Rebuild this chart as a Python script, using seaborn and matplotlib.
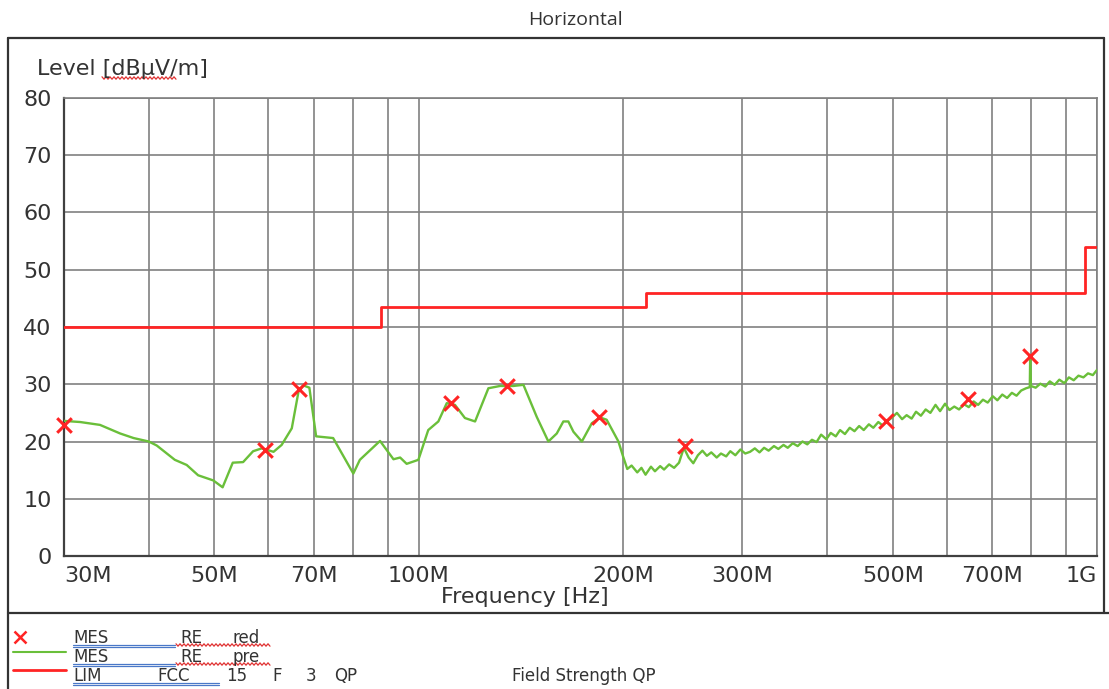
import matplotlib.pyplot as plt
import numpy as np
import pandas as pd
import seaborn as sns
from matplotlib.lines import Line2D
from matplotlib.ticker import NullLocator

# MES RE_pre : pre-scan trace, frequency in MHz, level in dBuV/m
pre_freq = [30, 31.7, 33.9, 36.3, 38.0, 40.0, 41.1, 43.7, 45.5, 47.3, 49.8, 51.4,
            53.2, 55.1, 57.0, 58.7, 61.1, 62.8, 65.0, 66.5, 67.6, 69.0, 70.6, 74.8,
            80.1, 81.9, 87.7, 91.8, 93.9, 96.0, 99.9, 103.3, 106.9, 110.0, 113.1,
            117.0, 121.1, 126.7, 131.8, 137.9, 142.7, 149.3, 155.3, 159.8, 163.4,
            166.2, 169.1, 174.0, 180.0, 185.1, 189.3, 197.0,
            200, 203, 206, 210, 213, 216, 220, 223, 227, 230, 234, 238, 242, 246,
            250, 254, 258, 262, 266, 270, 275, 279, 284, 288, 293, 298, 303, 308,
            313, 318, 323, 328, 334, 339, 345, 350, 356, 362, 368, 374, 380, 386,
            392, 399, 405, 412, 418, 425, 432, 439, 446, 453, 461, 468, 476, 483,
            491, 499, 507, 516, 524, 533, 541, 550, 559, 568, 578, 587, 597, 606,
            616, 626, 637, 647, 658, 668, 679, 690, 702, 713, 725, 737, 749, 761,
            773, 786, 796, 797, 799, 812, 825, 839, 852, 866, 880, 895, 909, 924,
            939, 955, 970, 986, 1000]
pre_level = [23.6, 23.4, 22.9, 21.4, 20.6, 20.0, 19.3, 16.8, 15.9, 14.1, 13.2, 12.0,
             16.3, 16.4, 18.3, 18.8, 18.2, 19.4, 22.3, 28.7, 29.8, 29.4, 20.9, 20.6,
             14.4, 16.8, 20.1, 16.9, 17.2, 16.1, 16.8, 22.0, 23.5, 26.7, 26.4,
             24.1, 23.5, 29.3, 29.7, 29.7, 29.9, 24.3, 20.0, 21.4, 23.5,
             23.5, 21.7, 20.0, 23.2, 24.2, 23.8, 20.0,
             17.5, 15.2, 15.8, 14.6, 15.4, 14.2, 15.6, 14.8, 15.7, 15.1, 16.0, 15.4, 16.3, 18.9,
             17.2, 16.2, 17.6, 18.4, 17.5, 18.1, 17.2, 17.9, 17.4, 18.3, 17.6, 18.6, 17.9, 18.2,
             18.8, 18.1, 18.9, 18.4, 19.2, 18.7, 19.4, 18.9, 19.7, 19.2, 20.0, 19.5, 20.3, 19.9,
             21.2, 20.4, 21.5, 20.9, 22.0, 21.3, 22.4, 21.8, 22.7, 22.0, 23.0, 22.4, 23.4, 22.8,
             23.6, 24.2, 25.0, 23.9, 24.6, 24.0, 25.2, 24.5, 25.6, 25.0, 26.4, 25.3, 26.6, 25.5,
             26.1, 25.6, 26.5, 26.0, 27.0, 26.4, 27.3, 26.8, 27.9, 27.2, 28.2, 27.6, 28.5, 28.0,
             28.9, 29.3, 29.5, 34.3, 29.7, 29.4, 30.1, 29.6, 30.5, 29.9, 30.8, 30.2, 31.2, 30.7,
             31.5, 31.2, 31.9, 31.6, 32.5]

# MES RE_red : final QP measurements
red_freq = [30, 59.3, 66.6, 111.6, 134.9, 184.4, 247, 488.7, 645, 796.6]
red_level = [22.9, 18.5, 29.2, 26.7, 29.7, 24.3, 19.2, 23.6, 27.4, 34.9]

# LIM FCC 15 F 3 QP
lim_freq = [30, 88, 216, 960, 1000]
lim_level = [40, 43.5, 46, 54, 54]

grid_freq = [30, 40, 50, 60, 70, 80, 90, 100, 200, 300, 400, 500, 600, 700, 800, 900, 1000]
freq_labels = {30: '30M', 50: '50M', 70: '70M', 100: '100M', 200: '200M',
               300: '300M', 500: '500M', 700: '700M', 1000: '1G'}
level_ticks = [0, 10, 20, 30, 40, 50, 60, 70, 80]

GREEN = '#6abf3a'
RED = '#ff2424'
TXT = '#333333'
W, H = 1109, 689


def fx(x):
    return x / W


def fy(y):
    return 1 - y / H


def fline(fig, xs, ys, **kw):
    fig.add_artist(Line2D([fx(v) for v in xs], [fy(v) for v in ys],
                          transform=fig.transFigure, **kw))


def squiggle(fig, x0, x1, y):
    xs = np.arange(x0, x1 + 1, 2.0)
    ys = [y + (1.2 if i % 2 else -1.2) for i in range(len(xs))]
    fline(fig, xs, ys, color='#e03030', lw=0.9)


sns.set_theme(style='white')
plt.rcParams['font.family'] = ['DejaVu Sans']

fig = plt.figure(figsize=(W / 100, H / 100), dpi=100)
ax = fig.add_axes([fx(64), fy(556), (1097 - 64) / W, (556 - 98) / H])
ax.set_xscale('log')

pre = pd.DataFrame({'freq': pre_freq, 'level': pre_level})
lim = pd.DataFrame({'freq': lim_freq, 'level': lim_level})
red = pd.DataFrame({'freq': red_freq, 'level': red_level})

sns.lineplot(data=pre, x='freq', y='level', color=GREEN, lw=1.7, ax=ax,
             estimator=None, sort=False, zorder=3)
sns.lineplot(data=lim, x='freq', y='level', color=RED, lw=2.0, ax=ax,
             estimator=None, sort=False, drawstyle='steps-post', zorder=3)
sns.scatterplot(data=red, x='freq', y='level', marker='x', s=110, color=RED,
                linewidth=2.2, ax=ax, clip_on=False, zorder=5)

ax.set_xlim(30, 1000)
ax.set_ylim(0, 80)
ax.set_xticks(grid_freq)
ax.set_xticklabels([freq_labels.get(f, '') for f in grid_freq])
ax.xaxis.set_minor_locator(NullLocator())
ax.set_yticks(level_ticks)
ax.set_xlabel('')
ax.set_ylabel('')
ax.tick_params(axis='both', length=0, labelsize=16, labelcolor=TXT)
ax.tick_params(axis='x', pad=7)
ax.tick_params(axis='y', pad=9)
labels = ax.get_xticklabels()
labels[0].set_ha('left')
labels[-1].set_ha('right')
ax.grid(True, color='#808080', lw=1.2)
for side in ['top', 'right']:
    ax.spines[side].set_color('#808080')
    ax.spines[side].set_linewidth(1.2)
for side in ['left', 'bottom']:
    ax.spines[side].set_color('#404040')
    ax.spines[side].set_linewidth(1.6)

# titles and axis captions
fig.text(fx(575), fy(25), 'Horizontal', ha='center', va='baseline',
         fontsize=14, color=TXT, family=['Open Sans', 'DejaVu Sans'])
fig.text(fx(37), fy(75), 'Level [dBµV/m]', ha='left', va='baseline', fontsize=16, color=TXT)
squiggle(fig, 102, 177, 78)
fig.text(fx(525), fy(603), 'Frequency [Hz]', ha='center', va='baseline', fontsize=16, color=TXT)

# outer frame
frame = dict(color='#333333', lw=1.6)
fline(fig, [8, 1104], [38, 38], **frame)
fline(fig, [8, 8], [38, 689], **frame)
fline(fig, [1104, 1104], [38, 613], **frame)
fline(fig, [8, 1109], [613, 613], **frame)

# legend block
fline(fig, [20], [637], color=RED, lw=0, marker='x', ms=9, mew=1.8)
fline(fig, [13, 66], [652, 652], color=GREEN, lw=1.5)
fline(fig, [13, 66], [670, 670], color=RED, lw=2.0)

rows = [(643, [(73, 'MES'), (180, 'RE'), (233, 'red')]),
        (662, [(73, 'MES'), (180, 'RE'), (233, 'pre')]),
        (681, [(73, 'LIM'), (157, 'FCC'), (226, '15'), (272, 'F'), (306, '3'), (334, 'QP'),
               (512, 'Field Strength QP')])]
for base, pieces in rows:
    for x, s in pieces:
        fig.text(fx(x), fy(base), s, ha='left', va='baseline', fontsize=12, color=TXT)

blue = dict(color='#4a78c8', lw=0.9)
for y, x1 in [(645, 175), (664, 175), (683, 219)]:
    fline(fig, [73, x1], [y, y], **blue)
    fline(fig, [73, x1], [y + 2, y + 2], **blue)
squiggle(fig, 176, 270, 645)
squiggle(fig, 176, 270, 664)

fig.savefig('out.png', dpi=100)
